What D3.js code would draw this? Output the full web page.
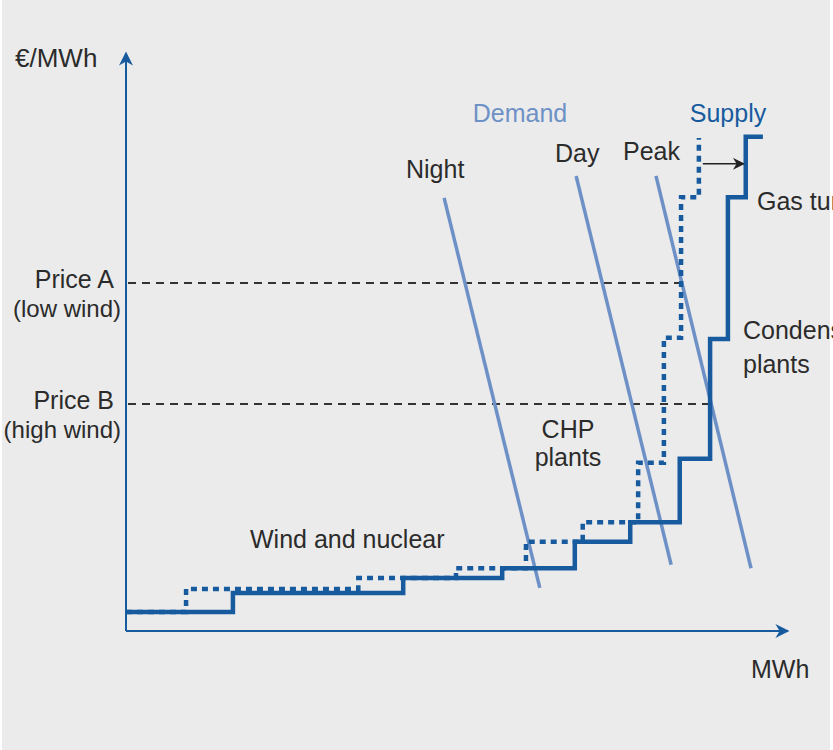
<!DOCTYPE html>
<html>
<head>
<meta charset="utf-8">
<script src="https://cdn.jsdelivr.net/npm/d3@7"></script>
<style>
  html, body { margin: 0; padding: 0; background: #ffffff; }
  svg { display: block; }
  text { font-family: "Liberation Sans", Arial, sans-serif; fill: #2b2b2b; }
</style>
</head>
<body>
<svg id="chart" width="833" height="750"></svg>
<script>
// ---- Data (MWh index 0..100, price index 0..100) ----
// Supply with low wind (solid): step start positions and price levels
const supplyLowX = [0, 16.2, 42, 57, 68, 76.4, 83.9, 88.5, 91.2, 93.9];
const supplyLowP = [3.3, 6.6, 9.2, 10.9, 15.5, 18.9, 29.9, 50.7, 75.3, 85.8];
const supplyLowEnd = 96.5;
// Supply with high wind (dotted)
const supplyHighX = [0, 9.1, 35.2, 50, 60.6, 69.2, 77.6, 81.5, 84.1];
const supplyHighP = [3.3, 7.3, 9.2, 10.9, 15.5, 18.9, 29.2, 50.9, 75.3];
const supplyHighEnd = [86.8, 85.6];
// Demand lines: [x1, p1, x2, p2]
const demandNames = ["Night", "Day", "Peak"];
const demandLines = [
  [48.2, 75.2, 62.7, 7.5],
  [68.2, 79.0, 82.6, 11.5],
  [80.3, 79.0, 94.7, 10.9]
];
// Price levels (dashed)
const priceNames = ["Price A", "Price B"];
const priceSub = ["(low wind)", "(high wind)"];
const priceLevels = [60.4, 39.4];
const priceEnds = [84.4, 88.5];
// Shift arrow between supply curves
const shiftArrow = [87.4, 93.6, 81.1];

// ---- Layout ----
const svg = d3.select("#chart");
const W = 833, H = 750;
const x = d3.scaleLinear().domain([0, 100]).range([126, 786]);
const y = d3.scaleLinear().domain([0, 100]).range([631, 55]);

const dark = "#175b9e";
const light = "#6d91c6";
const ink = "#2b2b2b";

svg.append("rect").attr("x", 0).attr("y", 0).attr("width", W).attr("height", H).attr("fill", "#ffffff");
svg.append("rect").attr("x", 2).attr("y", 0).attr("width", 828).attr("height", H).attr("fill", "#ebebeb");

const defs = svg.append("defs");
defs.append("marker").attr("id", "axArrowBig").attr("viewBox", "0 0 10 10")
  .attr("refX", 9).attr("refY", 5).attr("markerWidth", 16).attr("markerHeight", 14)
  .attr("markerUnits", "userSpaceOnUse").attr("orient", "auto")
  .append("path").attr("d", "M0,0 L10,5 L0,10 L3,5 Z").attr("fill", dark);
defs.append("marker").attr("id", "blkArrow").attr("viewBox", "0 0 10 10")
  .attr("refX", 9).attr("refY", 5).attr("markerWidth", 14).attr("markerHeight", 12)
  .attr("markerUnits", "userSpaceOnUse").attr("orient", "auto")
  .append("path").attr("d", "M0,0 L10,5 L0,10 L3,5 Z").attr("fill", "#222");

// Axes (arrows)
svg.append("line").attr("x1", x(0)).attr("y1", y(0)).attr("x2", x(0)).attr("y2", y(100) - 2)
  .attr("stroke", dark).attr("stroke-width", 2).attr("marker-end", "url(#axArrowBig)");
svg.append("line").attr("x1", x(0)).attr("y1", y(0)).attr("x2", x(100) + 2).attr("y2", y(0))
  .attr("stroke", dark).attr("stroke-width", 2).attr("marker-end", "url(#axArrowBig)");

// Price dashed lines
priceLevels.forEach((p, i) => {
  svg.append("line").attr("x1", x(0) + 2).attr("x2", x(priceEnds[i]))
    .attr("y1", y(p)).attr("y2", y(p))
    .attr("stroke", "#333").attr("stroke-width", 2).attr("stroke-dasharray", "8,6");
});

// Demand lines
demandLines.forEach(d => {
  svg.append("line").attr("x1", x(d[0])).attr("y1", y(d[1])).attr("x2", x(d[2])).attr("y2", y(d[3]))
    .attr("stroke", light).attr("stroke-width", 3.5);
});

// Supply curves
const step = d3.line().x(d => x(d[0])).y(d => y(d[1])).curve(d3.curveStepAfter);
const lowPts = supplyLowX.map((v, i) => [v, supplyLowP[i]]);
lowPts.push([supplyLowEnd, supplyLowP[supplyLowP.length - 1]]);
const highPts = supplyHighX.map((v, i) => [v, supplyHighP[i]]);
highPts.push(supplyHighEnd);

svg.append("path").attr("d", step(highPts)).attr("fill", "none")
  .attr("stroke", dark).attr("stroke-width", 4.5).attr("stroke-dasharray", "6,5");
svg.append("path").attr("d", step(lowPts)).attr("fill", "none")
  .attr("stroke", dark).attr("stroke-width", 4.5).attr("stroke-linejoin", "miter");

// Shift arrow
svg.append("line").attr("x1", x(shiftArrow[0])).attr("x2", x(shiftArrow[1]))
  .attr("y1", y(shiftArrow[2])).attr("y2", y(shiftArrow[2]))
  .attr("stroke", "#222").attr("stroke-width", 1.5).attr("marker-end", "url(#blkArrow)");

// Text
const fs = 25;
function label(t, px, py, anchor, color, size) {
  svg.append("text").attr("x", px).attr("y", py).attr("text-anchor", anchor || "start")
    .attr("font-size", size || fs).style("fill", color || ink).text(t);
}
label("€/MWh", 15, 67, "start", ink, 26);
label("MWh", 751, 678);
priceLevels.forEach((p, i) => {
  label(priceNames[i], 114, y(p) + 5, "end");
  label(priceSub[i], 121, y(p) + 34, "end", ink, 24);
});
label("Demand", 520, 122, "middle", light);
label("Supply", 728, 122, "middle", dark);
label(demandNames[0], 406, 178);
label(demandNames[1], 555, 162);
label(demandNames[2], 623, 160);
label("Gas turbines", 757, 210);
label("Condensing", 743, 339);
label("plants", 743, 373);
label("CHP", 568, 438, "middle");
label("plants", 568, 466, "middle");
label("Wind and nuclear", 250, 548);
</script>
</body>
</html>
